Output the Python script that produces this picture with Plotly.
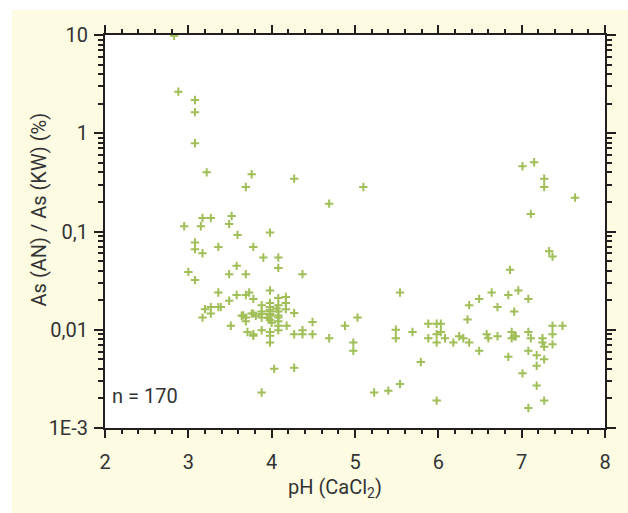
import plotly.graph_objects as go

# pH (CaCl2) values
ph = [
    2.83, 2.88, 3.08, 3.08, 3.08, 3.22, 3.76, 3.69, 4.27, 4.69, 5.10, 7.01, 7.15, 7.27, 7.27, 7.64, 7.11, 7.33, 7.37,
    2.95, 3.15, 3.17, 3.27, 3.52, 3.49, 3.59, 3.98, 3.08, 3.08, 3.17, 3.36, 3.78, 3.90, 4.08, 4.08, 3.00, 3.08,
    3.58, 3.49, 3.69, 4.37,
    3.36, 3.58, 3.69, 3.73, 3.78, 3.98, 3.49, 3.20, 3.27, 3.27, 3.17, 3.36, 3.39, 3.51, 3.64, 3.69, 3.69, 3.76,
    3.78, 3.81, 3.71, 3.78, 3.78, 3.88, 3.88, 3.88, 3.88, 3.98, 3.98, 3.98, 3.98, 3.98, 3.98, 3.98, 3.98,
    4.08, 4.08, 4.08, 4.08, 4.08, 4.08, 4.08, 4.17, 4.17, 4.17, 4.18, 4.27, 4.27, 4.37, 4.37, 4.49, 4.49,
    4.69, 4.88, 5.03, 4.98, 4.98, 4.03, 4.27, 3.88,
    3.98, 3.98, 4.08, 3.66, 3.88, 3.96, 4.00, 4.06,
    5.23, 5.40, 5.54, 5.54, 5.49, 5.49, 5.69, 5.79, 5.88, 5.98, 6.03, 5.88, 5.98, 6.03, 5.98, 6.08, 6.18,
    6.25, 6.30, 6.37, 6.35, 6.37, 6.49, 6.64, 6.71, 6.49, 6.58, 6.60, 6.71, 6.84, 6.86, 6.96, 6.91, 7.08,
    6.84, 6.88, 6.88, 6.91, 6.93, 7.01, 7.08, 7.11, 7.08, 7.18, 7.18, 7.18, 7.08, 7.25, 7.25, 7.27, 7.27,
    7.27, 7.37, 7.37, 7.37, 7.49, 5.98,
]

# As (AN) / As (KW) in %
ratio = [
    9.8, 2.65, 2.18, 1.64, 0.79, 0.40, 0.383, 0.284, 0.345, 0.192, 0.284, 0.461, 0.507, 0.345, 0.284, 0.221, 0.151, 0.063, 0.0555,
    0.113, 0.113, 0.137, 0.137, 0.144, 0.119, 0.0923, 0.0975, 0.0774, 0.0661, 0.0601, 0.0697, 0.0697, 0.0543, 0.0543, 0.0426, 0.0388, 0.0320,
    0.0447, 0.0368, 0.0368, 0.0368,
    0.0239, 0.0226, 0.0226, 0.0239, 0.0206, 0.0251, 0.0197, 0.0162, 0.0170, 0.0146, 0.0133, 0.0170, 0.0170, 0.0110, 0.0139, 0.0133, 0.0122, 0.0146,
    0.0146, 0.0139, 0.0095, 0.0090, 0.0087, 0.0178, 0.0153, 0.0133, 0.0099, 0.0187, 0.0170, 0.0153, 0.0139, 0.0126, 0.0095, 0.0087, 0.0074,
    0.0210, 0.0178, 0.0153, 0.0133, 0.0122, 0.0110, 0.0099, 0.0216, 0.0187, 0.0162, 0.0110, 0.0148, 0.0090, 0.0099, 0.0090, 0.0120, 0.0090,
    0.0082, 0.0110, 0.0133, 0.0074, 0.0061, 0.0040, 0.0041, 0.0023,
    0.0160, 0.0145, 0.0140, 0.0140, 0.0145, 0.0132, 0.0118, 0.0165,
    0.0023, 0.0024, 0.0028, 0.0239, 0.0100, 0.0082, 0.0095, 0.0047, 0.0115, 0.0115, 0.0115, 0.0082, 0.0090, 0.0095, 0.0074, 0.0082, 0.0074,
    0.0086, 0.0082, 0.0074, 0.0127, 0.0178, 0.0206, 0.0239, 0.0170, 0.0061, 0.0090, 0.0082, 0.0086, 0.0226, 0.0407, 0.0251, 0.0153, 0.0206,
    0.0053, 0.0095, 0.0082, 0.0086, 0.0086, 0.0036, 0.0095, 0.0082, 0.0061, 0.0055, 0.0043, 0.0027, 0.0016, 0.0082, 0.0074, 0.0067, 0.0050,
    0.0019, 0.0110, 0.0090, 0.0071, 0.0110, 0.0019,
]

y_tickvals = [0.001, 0.01, 0.1, 1, 10]
y_ticktext = ["1E-3", "0,01", "0,1", "1", "10"]
y_minor = [m * 10 ** e for e in (-3, -2, -1, 0) for m in range(2, 10)]

FONT = dict(family="Roboto, 'Open Sans', sans-serif", size=20, color="#333333")
AX = "#231f20"
GREEN = "#a0bf58"

fig = go.Figure(go.Scatter(
    x=ph, y=ratio, mode="markers",
    marker=dict(symbol="cross-thin", size=6, line=dict(width=2, color=GREEN), color=GREEN),
    showlegend=False, hoverinfo="x+y",
))

fig.update_layout(
    width=628, height=513,
    margin=dict(l=105, r=12, t=35, b=85),
    paper_bgcolor="white", plot_bgcolor="white",
    font=FONT,
    shapes=[
        dict(type="rect", xref="paper", yref="paper", x0=(10 - 105) / 511, x1=(640 - 105) / 511,
             y0=(428 - 520) / 393, y1=(428 - 10) / 393, fillcolor="#fefbe3", line=dict(width=0), layer="below"),
        dict(type="rect", xref="paper", yref="paper", x0=0, x1=1, y0=0, y1=1,
             fillcolor="white", line=dict(width=0), layer="below"),
    ],
    annotations=[
        dict(text="As (AN) / As (KW) (%)", textangle=-90, xref="paper", yref="paper",
             x=(38 - 105) / 511, y=(428 - 209) / 393, xanchor="center", yanchor="middle",
             showarrow=False, font=FONT),
        dict(text="pH (CaCl<sub>2</sub>)", xref="paper", yref="paper",
             x=(340 - 105) / 511, y=(428 - 488) / 393, xanchor="center", yanchor="middle",
             showarrow=False, font=FONT),
        dict(text="n = 170", xref="paper", yref="paper",
             x=(110 - 105) / 511, y=(428 - 396) / 393, xanchor="left", yanchor="middle",
             showarrow=False, font=FONT),
    ],
)

fig.update_xaxes(
    range=[2, 8], tickmode="linear", tick0=2, dtick=1,
    ticks="outside", ticklen=8, tickwidth=2, tickcolor=AX,
    showline=True, linewidth=2, linecolor=AX, mirror="ticks",
    showgrid=False, zeroline=False,
    minor=dict(dtick=0.2, tick0=2, ticks="outside", ticklen=4, tickwidth=2, tickcolor=AX, showgrid=False),
    tickfont=FONT, ticklabelstandoff=7,
)
fig.update_yaxes(
    type="log", range=[-3, 1], tickmode="array", tickvals=y_tickvals, ticktext=y_ticktext,
    ticks="outside", ticklen=9, tickwidth=2, tickcolor=AX,
    showline=True, linewidth=2, linecolor=AX, mirror="ticks",
    showgrid=False, zeroline=False,
    minor=dict(tickmode="array", tickvals=y_minor, ticks="outside", ticklen=5, tickwidth=2, tickcolor=AX, showgrid=False),
    tickfont=FONT, ticklabelstandoff=2,
)

fig.write_html("out.html")
